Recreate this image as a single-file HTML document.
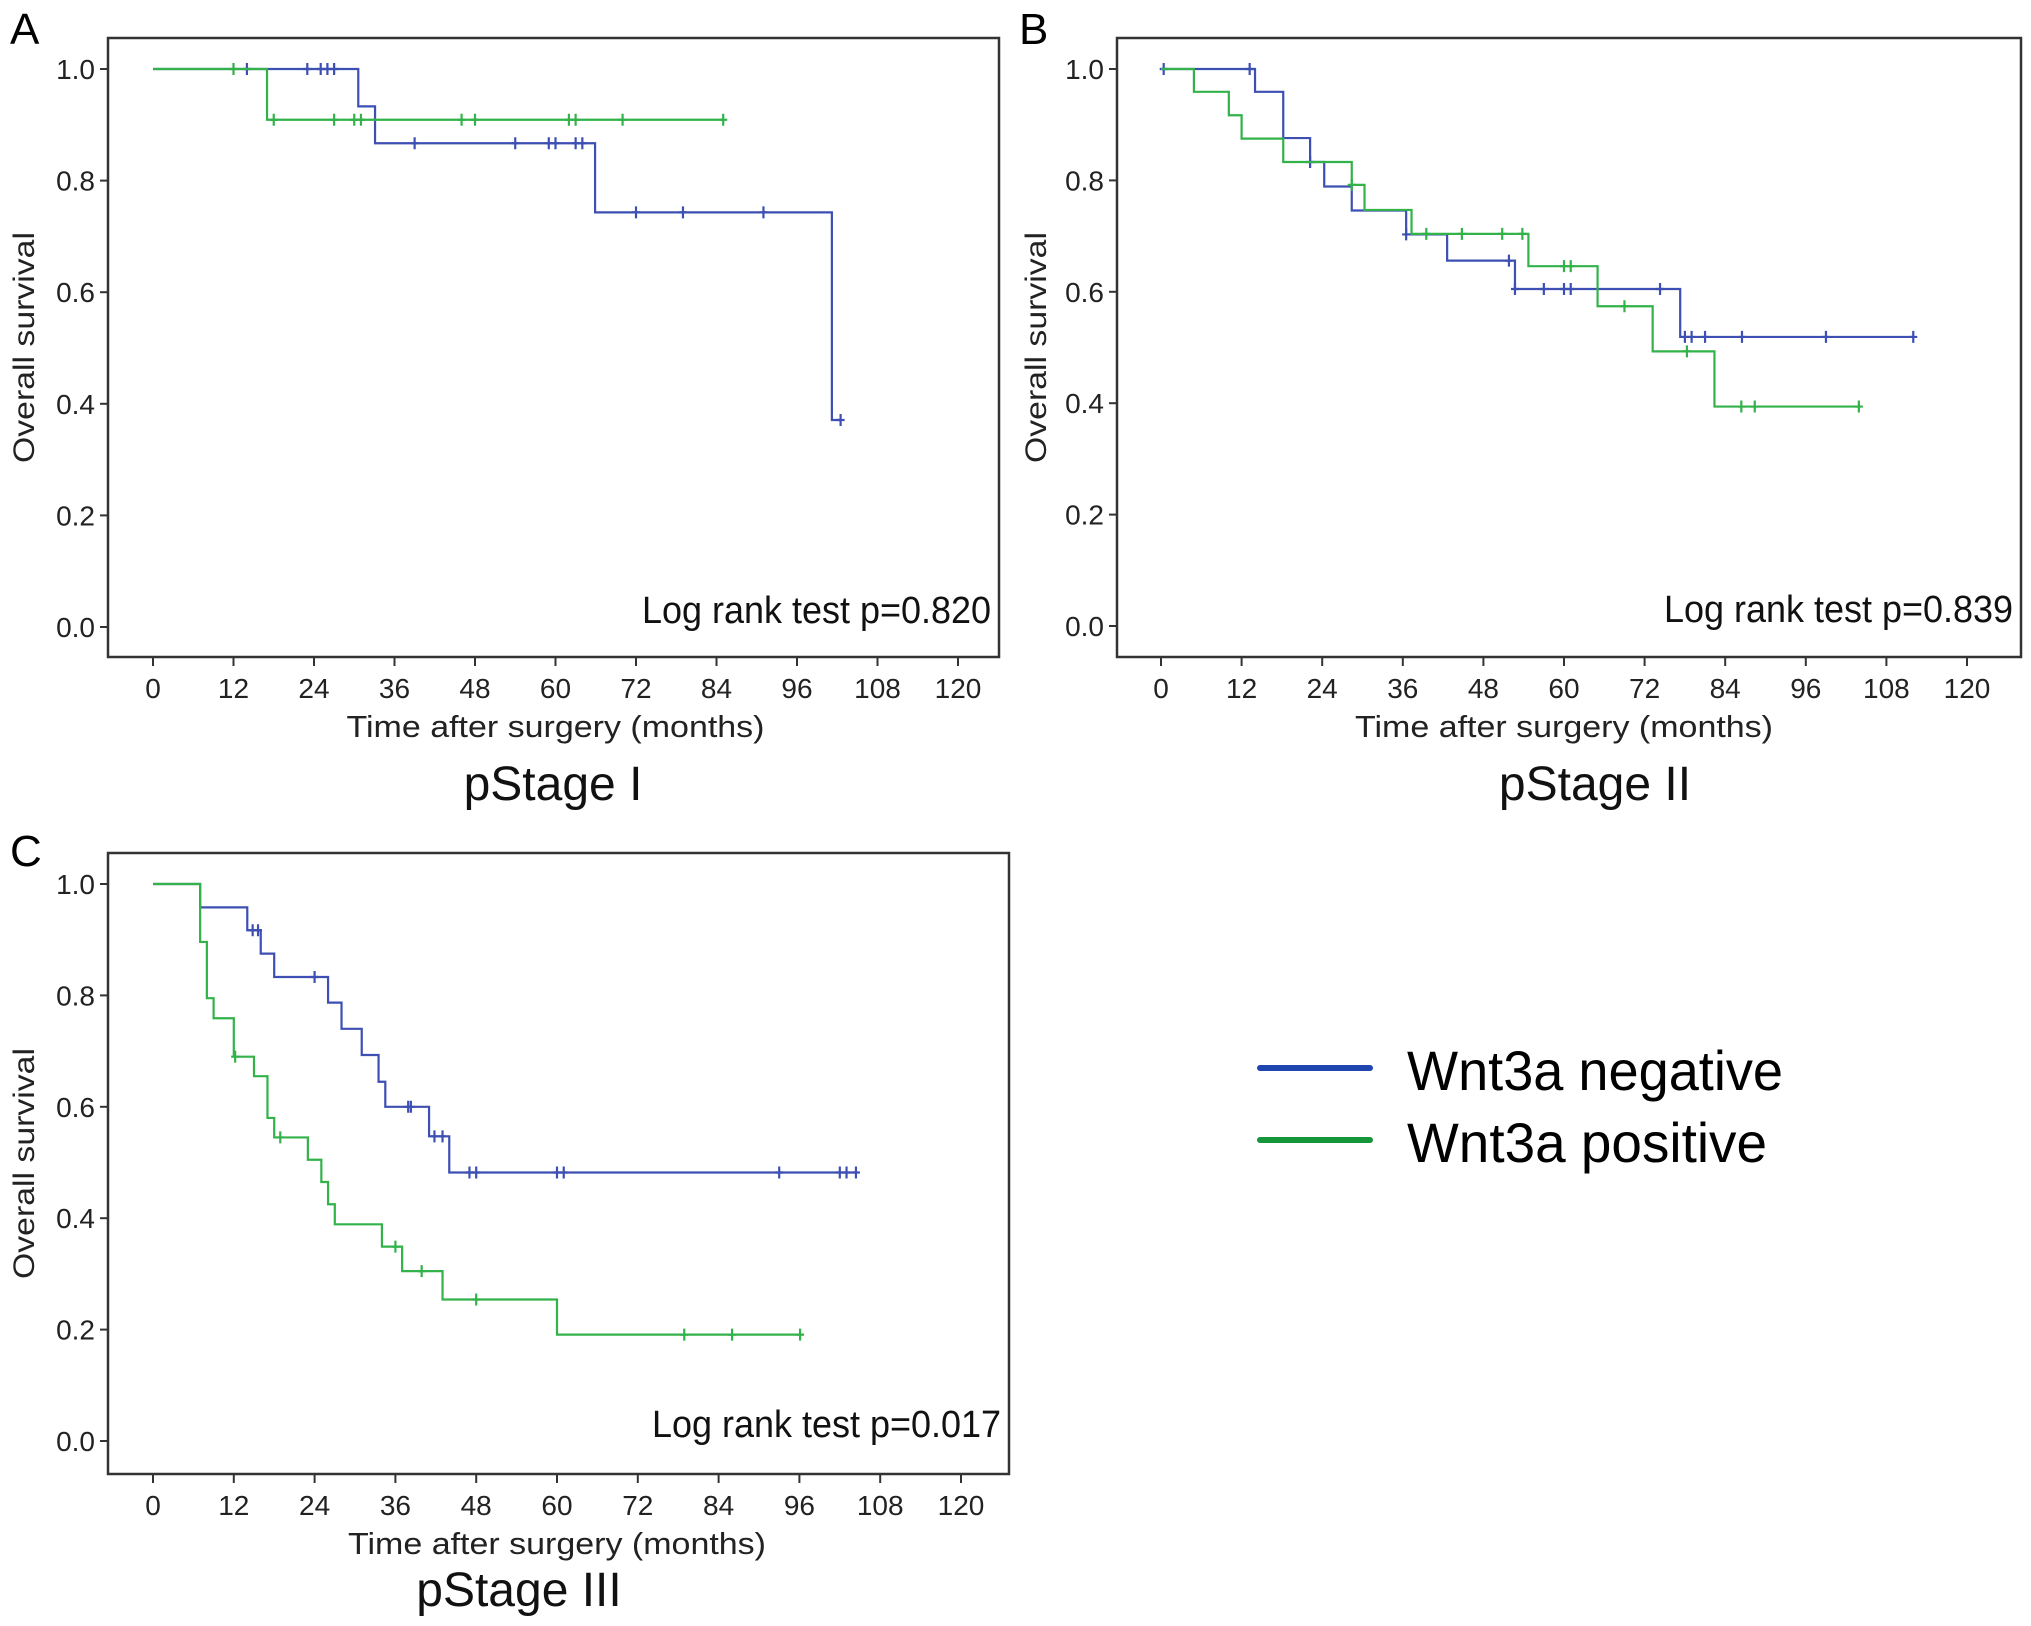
<!DOCTYPE html>
<html><head><meta charset="utf-8"><style>
html,body{margin:0;padding:0;background:#fff;}
svg{display:block;font-family:"Liberation Sans",Arial,sans-serif;}
</style></head><body>
<svg id="fig" width="2031" height="1626" viewBox="0 0 2031 1626" xmlns="http://www.w3.org/2000/svg">
<g id="legend">
<g>
<line x1="1260" y1="1068" x2="1370" y2="1068" stroke="#1f45b0" stroke-width="6" stroke-linecap="round"/>
<text x="1407" y="1090" font-size="56" textLength="376" lengthAdjust="spacingAndGlyphs" fill="#000">Wnt3a negative</text>
</g>
<g>
<line x1="1260" y1="1140" x2="1370" y2="1140" stroke="#16963a" stroke-width="6" stroke-linecap="round"/>
<text x="1407" y="1162" font-size="56" textLength="360" lengthAdjust="spacingAndGlyphs" fill="#000">Wnt3a positive</text>
</g>
</g>
</svg>
<script>
// Panel A (pStage I) data
const aNegT = [0, 30.6, 33.1, 65.9, 101.2, 102.5];
const aNegS = [1.0, 0.933, 0.867, 0.743, 0.371, 0.371];
const aNegCensT = [14, 23, 25, 26, 27, 39, 54, 59, 60, 63, 64, 72, 79, 91, 102.5];
const aPosT = [0, 17, 85];
const aPosS = [1.0, 0.909, 0.909];
const aPosCensT = [12, 18, 27, 30, 31, 46, 48, 62, 63, 70, 85];
// Panel B (pStage II) data
const bNegT = [0, 14, 18.2, 22.2, 24.3, 28.4, 36.5, 42.6, 52.7, 77.3, 112];
const bNegS = [1.0, 0.959, 0.876, 0.833, 0.789, 0.746, 0.703, 0.656, 0.605, 0.519, 0.519];
const bNegCensT = [0.4, 13.2, 22.2, 36.5, 51.8, 52.7, 57, 60, 61, 74.3, 78, 79, 81, 86.5, 99, 112];
const bPosT = [0, 4.9, 10.1, 12, 18.2, 28.4, 30.3, 37.3, 54.7, 65, 73.2, 82.4, 103.9];
const bPosS = [1.0, 0.959, 0.917, 0.875, 0.833, 0.792, 0.747, 0.704, 0.646, 0.574, 0.493, 0.394, 0.394];
const bPosCensT = [28.4, 39.5, 44.8, 50.8, 53.8, 60, 61, 69, 78.3, 86.4, 88.4, 103.9];
// Panel C (pStage III) data
const cNegT = [0, 7, 14, 16, 18, 26, 28, 31, 33.5, 34.5, 41, 44, 104.4];
const cNegS = [1.0, 0.958, 0.917, 0.875, 0.833, 0.787, 0.74, 0.693, 0.645, 0.6, 0.547, 0.482, 0.482];
const cNegCensT = [14.8, 15.6, 24, 37.9, 38.3, 41.8, 43, 47, 48, 60, 61, 93, 102, 103, 104.4];
const cPosT = [0, 7, 8, 9, 12, 15, 17, 18, 23, 25, 26, 27, 34, 37, 43, 60, 96.4];
const cPosS = [1.0, 0.896, 0.795, 0.759, 0.69, 0.655, 0.58, 0.545, 0.505, 0.465, 0.425, 0.389, 0.349, 0.305, 0.254, 0.191, 0.191];
const cPosCensT = [12.2, 18.9, 36, 39.9, 48, 78.9, 86, 96.1];
const xTicks = [0, 12, 24, 36, 48, 60, 72, 84, 96, 108, 120];
const yTicks = [0.0, 0.2, 0.4, 0.6, 0.8, 1.0];
const pValues = ["0.820", "0.839", "0.017"];
const stageLabels = ["pStage I", "pStage II", "pStage III"];
const panelLetters = ["A", "B", "C"];

const NS = "http://www.w3.org/2000/svg";
const svg = document.getElementById('fig');
const BLUE = "#3d4fb3", GREEN = "#33b24a";

function mk(tag, attrs, parent) {
  const e = document.createElementNS(NS, tag);
  for (const k in attrs) e.setAttribute(k, attrs[k]);
  parent.appendChild(e);
  return e;
}

function stepValue(T, S, t) {
  let v = S[0];
  for (let i = 0; i < T.length; i++) if (T[i] <= t) v = S[i];
  return v;
}

function drawPanel(idx, box, neg, pos) {
  const g = mk('g', {}, svg);
  
  
  const xs = t => box.x0 + (box.x120 - box.x0) * t / 120;
  const ys = v => box.y0 + (box.y1 - box.y0) * v;
  const fr = mk('rect', {x: box.l, y: box.t, width: box.r - box.l, height: box.b - box.t, fill: 'none', stroke: '#333', 'stroke-width': 2.5}, g);
  
  
  const letter = mk('text', {x: box.lx, y: box.ly, 'font-size': 44, fill: '#000'}, g);
  letter.textContent = panelLetters[idx];
  
  
  yTicks.forEach(v => {
    const y = ys(v);
    const tk = mk('line', {x1: box.l - 8, y1: y, x2: box.l, y2: y, stroke: '#333', 'stroke-width': 2}, g);
    
    
    const tl = mk('text', {x: box.l - 13, y: y + 10, 'font-size': 28, 'text-anchor': 'end', fill: '#222'}, g);
    tl.textContent = v.toFixed(1);
    
    
  });
  xTicks.forEach(t => {
    const x = xs(t);
    const tk = mk('line', {x1: x, y1: box.b, x2: x, y2: box.b + 9, stroke: '#333', 'stroke-width': 2}, g);
    
    
    const tl = mk('text', {x: x, y: box.b + 41, 'font-size': 28, 'text-anchor': 'middle', fill: '#222'}, g);
    tl.textContent = String(t);
    
    
  });
  const xt = mk('text', {x: (box.x0 + box.x120) / 2, y: box.b + 80, 'font-size': 31, 'text-anchor': 'middle', fill: '#222', textLength: 418, lengthAdjust: 'spacingAndGlyphs'}, g);
  xt.textContent = 'Time after surgery (months)';
  
  
  const yt = mk('text', {x: 0, y: 0, 'font-size': 30, 'text-anchor': 'middle', fill: '#222', textLength: 231, lengthAdjust: 'spacingAndGlyphs', transform: `translate(${box.yTitleX},${(box.t + box.b) / 2}) rotate(-90)`}, g);
  yt.textContent = 'Overall survival';
  
  
  const lr = mk('text', {x: box.r - 8, y: ys(0.0) - 4, 'font-size': 38, 'text-anchor': 'end', fill: '#111', textLength: 349, lengthAdjust: 'spacingAndGlyphs'}, g);
  lr.textContent = 'Log rank test p=' + pValues[idx];
  
  
  const st = mk('text', {x: box.sx, y: box.sy, 'font-size': 48, 'text-anchor': 'middle', fill: '#111'}, g);
  st.textContent = stageLabels[idx];
  
  

  [[neg, BLUE, 'negative'], [pos, GREEN, 'positive']].forEach(([d, col, nm]) => {
    const [T, S, C] = d;
    let p = `M${xs(T[0])},${ys(S[0])}`;
    for (let i = 1; i < T.length; i++) {
      p += ` H${xs(T[i])} V${ys(S[i])}`;
    }
    const path = mk('path', {d: p, fill: 'none', stroke: col, 'stroke-width': 2.2}, g);
    
    
    C.forEach(t => {
      const x = xs(t), y = ys(stepValue(T, S, t));
      const cm = mk('path', {d: `M${x},${y - 6} V${y + 6} M${x - 4},${y} H${x + 4}`, stroke: col, 'stroke-width': 2.2, fill: 'none'}, g);
      
      
    });
  });
}

drawPanel(0, {l: 108, r: 999, t: 38, b: 657, x0: 153, x120: 958, y1: 69, y0: 627, lx: 10, ly: 44, yTitleX: 34, sx: 553, sy: 800},
  [aNegT, aNegS, aNegCensT], [aPosT, aPosS, aPosCensT]);
drawPanel(1, {l: 1117, r: 2021, t: 38, b: 657, x0: 1161, x120: 1967, y1: 69, y0: 626, lx: 1019, ly: 44, yTitleX: 1046, sx: 1595, sy: 800},
  [bNegT, bNegS, bNegCensT], [bPosT, bPosS, bPosCensT]);
drawPanel(2, {l: 108, r: 1009, t: 853, b: 1474, x0: 153, x120: 961, y1: 884, y0: 1441, lx: 10, ly: 866, yTitleX: 34, sx: 519, sy: 1606},
  [cNegT, cNegS, cNegCensT], [cPosT, cPosS, cPosCensT]);
</script>
</body></html>
